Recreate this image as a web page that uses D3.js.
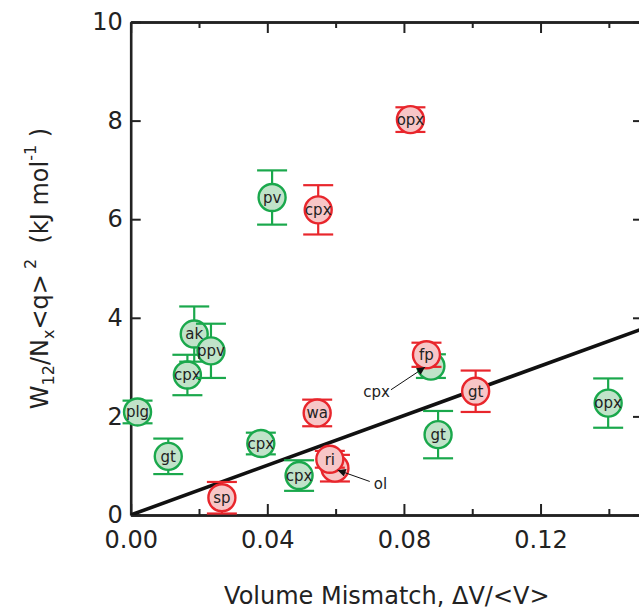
<!DOCTYPE html>
<html>
<head>
<meta charset="utf-8">
<script src="https://cdn.jsdelivr.net/npm/d3@7"></script>
<style>
body{margin:0;background:#fff;}
svg{display:block;font-family:"DejaVu Sans",sans-serif;}
</style>
</head>
<body>
<script>
// green group (with error bars)
var greenLabels=["plg","gt","cpx","ak","ppv","pv","cpx","cpx","","gt","opx"];
var greenX=[0.0020,0.0110,0.0166,0.0186,0.0235,0.0414,0.0381,0.0493,0.0879,0.0900,0.1398];
var greenY=[2.09,1.19,2.84,3.67,3.33,6.44,1.45,0.80,3.02,1.63,2.27];
var greenErr=[0.23,0.36,0.41,0.56,0.55,0.55,0.22,0.31,0.24,0.48,0.50];

// red group
var redLabels=["sp","wa","cpx","opx","","ri","fp","gt"];
var redX=[0.0267,0.0546,0.0549,0.0819,0.0598,0.0583,0.0866,0.1010];
var redY=[0.35,2.07,6.19,8.02,0.95,1.13,3.25,2.51];
var redErr=[0.32,0.27,0.50,0.25,0.27,0.17,0.245,0.42];

// fitted line
var lineX=[0,0.15];
var lineY=[0,3.78];

// arrow labels
var annText=["ol","cpx"];
var annTextX=[0.0712,0.0759];
var annTextY=[0.64,2.50];
var annFromX=[0.0700,0.0762];
var annFromY=[0.68,2.54];
var annTipX=[0.0606,0.0862];
var annTipY=[0.91,3.00];

var xMajor=[0,0.04,0.08,0.12];
var xMinor=[0.02,0.06,0.10,0.14];
var yMajor=[0,2,4,6,8,10];

var W=639,H=609;
var plotLeft=130.7,plotRight=643,plotTop=22,plotBottom=515;

var svg=d3.select("body").append("svg").attr("width",W).attr("height",H);

var x=d3.scaleLinear().domain([0,0.15]).range([plotLeft,plotRight]);
var y=d3.scaleLinear().domain([0,10]).range([plotBottom,plotTop]);

var defs=svg.append("defs");
defs.append("clipPath").attr("id","plotClip")
	.append("rect").attr("x",plotLeft).attr("y",plotTop)
	.attr("width",plotRight-plotLeft).attr("height",plotBottom-plotTop);
defs.append("marker")
	.attr("id","arrow").attr("viewBox","0 0 10 10").attr("refX",10).attr("refY",5)
	.attr("markerWidth",13).attr("markerHeight",8).attr("markerUnits","userSpaceOnUse")
	.attr("orient","auto")
	.append("path").attr("d","M0,0L10,5L0,10Z").attr("fill","#111");

function styleAxis(g){
	g.select(".domain").attr("stroke","#222").attr("stroke-width",2.6);
	g.selectAll(".tick line").attr("stroke","#222").attr("stroke-width",2);
	g.selectAll(".tick text").attr("fill","#222").attr("font-size",24)
		.attr("font-family","'DejaVu Sans',sans-serif");
}

// bottom axis
var gb=svg.append("g").attr("transform","translate(0,"+plotBottom+")")
	.call(d3.axisBottom(x).tickValues(xMajor).tickSizeInner(-11).tickSizeOuter(0)
		.tickPadding(16).tickFormat(d3.format(".2f")));
styleAxis(gb);
var gbm=svg.append("g").attr("transform","translate(0,"+plotBottom+")")
	.call(d3.axisBottom(x).tickValues(xMinor).tickSizeInner(-6).tickSizeOuter(0).tickFormat(""));
styleAxis(gbm);

// top axis
var gt=svg.append("g").attr("transform","translate(0,"+plotTop+")")
	.call(d3.axisTop(x).tickValues(xMajor).tickSizeInner(-11).tickSizeOuter(0).tickFormat(""));
styleAxis(gt);
var gtm=svg.append("g").attr("transform","translate(0,"+plotTop+")")
	.call(d3.axisTop(x).tickValues(xMinor).tickSizeInner(-6).tickSizeOuter(0).tickFormat(""));
styleAxis(gtm);

// left axis
var gl=svg.append("g").attr("transform","translate("+plotLeft+",0)")
	.call(d3.axisLeft(y).tickValues(yMajor).tickSizeInner(-10).tickSizeOuter(0).tickPadding(8));
styleAxis(gl);

// right axis
var gr=svg.append("g").attr("transform","translate("+plotRight+",0)")
	.call(d3.axisRight(y).tickValues(yMajor).tickSizeInner(-10).tickSizeOuter(0).tickFormat(""));
styleAxis(gr);

// fit line
svg.append("path")
	.attr("clip-path","url(#plotClip)")
	.attr("d",d3.line().x(function(d){return x(d[0]);}).y(function(d){return y(d[1]);})(d3.zip(lineX,lineY)))
	.attr("fill","none").attr("stroke","#111").attr("stroke-width",3.6);

function drawGroup(labels,xs,ys,errs,stroke,fill){
	var g=svg.append("g");
	labels.forEach(function(lab,i){
		var cx=x(xs[i]),cy=y(ys[i]);
		var y1=y(ys[i]+errs[i]),y2=y(ys[i]-errs[i]);
		var p=g.append("g");
		p.append("line").attr("x1",cx).attr("x2",cx).attr("y1",y1).attr("y2",y2)
			.attr("stroke",stroke).attr("stroke-width",2.2);
		[y1,y2].forEach(function(cyy){
			p.append("line").attr("x1",cx-15).attr("x2",cx+15).attr("y1",cyy).attr("y2",cyy)
				.attr("stroke",stroke).attr("stroke-width",2.2);
		});
		p.append("circle").attr("cx",cx).attr("cy",cy).attr("r",13.5)
			.attr("fill",fill).attr("stroke",stroke).attr("stroke-width",2.4);
		if(lab){
			p.append("text").attr("x",cx).attr("y",cy).attr("dy","0.35em")
				.attr("text-anchor","middle").attr("font-size",15).attr("fill","#222").text(lab);
		}
	});
}

drawGroup(greenLabels,greenX,greenY,greenErr,"#1aa84c","#c1e3c9");
drawGroup(redLabels,redX,redY,redErr,"#e8262c","#f7c6c7");

// arrow labels
annText.forEach(function(t,i){
	svg.append("line")
		.attr("x1",x(annFromX[i])).attr("y1",y(annFromY[i]))
		.attr("x2",x(annTipX[i])).attr("y2",y(annTipY[i]))
		.attr("stroke","#111").attr("stroke-width",1).attr("marker-end","url(#arrow)");
	svg.append("text").attr("x",x(annTextX[i])).attr("y",y(annTextY[i])).attr("dy","0.35em")
		.attr("text-anchor",i===0?"start":"end").attr("font-size",15).attr("fill","#222").text(t);
});

// axis titles
svg.append("text").attr("x",(plotLeft+plotRight)/2).attr("y",604)
	.attr("text-anchor","middle").attr("font-size",24).attr("fill","#222")
	.text("Volume Mismatch, \u0394V/<V>");

var yt=svg.append("text").attr("transform","translate(48,"+((plotTop+plotBottom)/2)+") rotate(-90)")
	.attr("text-anchor","middle").attr("font-size",24).attr("fill","#222");
yt.append("tspan").text("W");
yt.append("tspan").attr("font-size",16).attr("dy",6).text("12");
yt.append("tspan").attr("dy",-6).text("/N");
yt.append("tspan").attr("font-size",16).attr("dy",6).text("x");
yt.append("tspan").attr("dy",-6).text("<q>");
yt.append("tspan").attr("font-size",16).attr("dy",-12).text("\u00a02");
yt.append("tspan").attr("dy",12).text("\u00a0\u00a0(kJ mol");
yt.append("tspan").attr("font-size",16).attr("dy",-12).text("-1");
yt.append("tspan").attr("dy",12).text("\u00a0)");
</script>
</body>
</html>
